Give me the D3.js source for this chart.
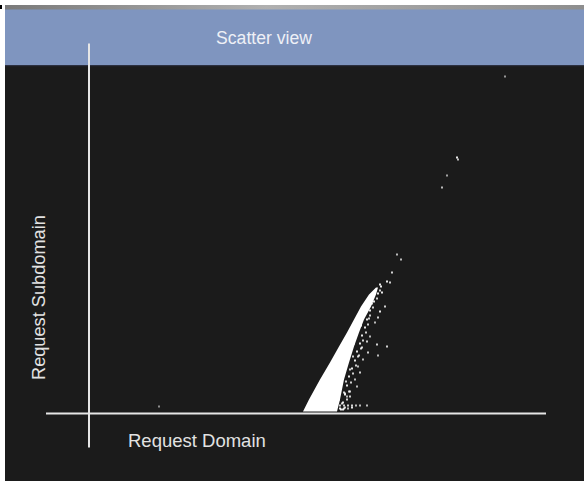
<!DOCTYPE html>
<html>
<head>
<meta charset="utf-8">
<script src="https://cdn.jsdelivr.net/npm/d3@7"></script>
<style>
  html, body { margin: 0; padding: 0; background: #ffffff; }
  svg { display: block; }
</style>
</head>
<body>
<div id="chart"></div>
<script>
// dense core of the cloud: for each subdomain level, domain extent (left, right)
var coreY     = [2, 14, 34, 51, 67, 81, 94, 107, 119, 126];
var coreLeft  = [214, 220, 231, 241, 250, 258, 265, 272, 280, 287];
var coreRight = [248, 251, 255, 260, 265, 270, 275, 282, 287, 289];

// scattered points (domain, subdomain)
var ptX = [416, 368, 369, 358, 353, 70,
  308, 312, 303, 291, 298, 301, 293, 296, 291, 289, 286, 281, 288, 298, 289, 278, 279, 274,
  269, 271, 266, 268, 261, 258, 271, 278, 263, 254, 261,
  263, 266, 261, 264, 258, 261, 254, 257, 252, 255, 250, 253, 248, 256,
  247, 251, 255, 259, 263, 267, 247, 251, 255, 259,
  276, 283, 272, 280, 268, 273, 265, 270,
  252, 256, 254, 258, 256, 260, 258, 262, 260, 264, 263, 267, 266, 269, 268, 272,
  271, 274, 273, 277, 276, 279, 278, 281, 281, 284, 285, 288, 289, 291, 292];
var ptY = [337, 256, 254, 238, 226, 7,
  159, 154, 141, 129, 132, 131, 121, 107, 102, 96, 91, 77, 69, 67, 58, 72, 61, 54,
  47, 41, 34, 27, 22, 17, 8, 8, 6, 4, 17,
  79, 74, 62, 57, 49, 44, 39, 32, 26, 21, 14, 10, 7, 20,
  8, 8, 8, 8, 8, 8, 5, 5, 5, 5,
  100, 110, 88, 95, 83, 66, 70, 58,
  4, 6, 11, 14, 19, 22, 28, 31, 37, 40, 45, 48, 53, 57, 62, 65,
  70, 73, 78, 81, 86, 89, 94, 98, 103, 106, 112, 115, 120, 123, 127];
var ptShade = [0.55, 0.9, 0.7, 0.6, 0.7, 0.5,
  0.7, 0.7, 0.8, 0.9, 0.9, 0.8, 0.9, 0.8, 0.9, 0.8, 0.7, 0.7, 0.8, 0.8, 0.7, 0.8, 0.8, 0.7,
  0.7, 0.8, 0.7, 0.7, 0.8, 0.7, 0.7, 0.7, 0.9, 0.9, 0.8,
  0.9, 0.8, 0.9, 0.8, 0.9, 0.8, 0.9, 0.8, 0.9, 0.8, 0.9, 0.8, 0.9, 0.8,
  0.8, 0.8, 0.8, 0.8, 0.8, 0.7, 0.9, 0.9, 0.8, 0.7,
  0.9, 0.8, 0.9, 0.8, 0.9, 0.8, 0.9, 0.8,
  0.9, 0.8, 0.9, 0.8, 0.9, 0.8, 0.9, 0.8, 0.9, 0.8, 0.9, 0.8, 0.9, 0.8, 0.9, 0.8,
  0.9, 0.8, 0.9, 0.8, 0.9, 0.8, 0.9, 0.8, 0.9, 0.8, 0.9, 0.8, 0.9, 0.8, 0.9];

var W = 584, H = 481;
var svg = d3.select("#chart").append("svg")
    .attr("width", W)
    .attr("height", H);

// panel background
svg.append("rect").attr("x", 5).attr("y", 5).attr("width", W - 5).attr("height", H - 5)
    .attr("fill", "#1b1b1b");

var grad = svg.append("defs").append("linearGradient").attr("id", "topstrip");
grad.append("stop").attr("offset", "0%").attr("stop-color", "#7a7a7a");
grad.append("stop").attr("offset", "45%").attr("stop-color", "#b0b0b0");
grad.append("stop").attr("offset", "100%").attr("stop-color", "#8e8e8e");
svg.append("rect").attr("x", 5).attr("y", 5).attr("width", W - 5).attr("height", 5)
    .attr("fill", "url(#topstrip)");
svg.append("rect").attr("x", 0).attr("y", 5).attr("width", 2).attr("height", 4).attr("fill", "#000");

// header
svg.append("rect").attr("x", 5).attr("y", 9.5).attr("width", W - 5).attr("height", 55.5)
    .attr("fill", "#7f95bf");
svg.append("rect").attr("x", 5).attr("y", 65).attr("width", W - 5).attr("height", 1.2)
    .attr("fill", "#2c3040");
svg.append("text")
    .attr("x", 264).attr("y", 43.5)
    .attr("text-anchor", "middle")
    .attr("font-family", "Liberation Sans, Arial, sans-serif")
    .attr("font-size", "17.6px")
    .attr("fill", "#eef0f6")
    .text("Scatter view");

var x = d3.scaleLinear().domain([0, 457]).range([89, 546]);
var y = d3.scaleLinear().domain([0, 370]).range([413.5, 43.5]);

// axes as plain crossing lines
svg.append("line")
    .attr("x1", x(0)).attr("x2", x(0))
    .attr("y1", y(-34)).attr("y2", y(370))
    .attr("stroke", "#e6e6e6").attr("stroke-width", 2);
svg.append("line")
    .attr("x1", x(-43)).attr("x2", x(457))
    .attr("y1", y(0)).attr("y2", y(0))
    .attr("stroke", "#e6e6e6").attr("stroke-width", 2);

// dense core
var core = coreY.map(function(v, i) { return [v, coreLeft[i], coreRight[i]]; });
svg.append("path")
    .datum(core)
    .attr("d", d3.area()
        .y(function(d) { return y(d[0]); })
        .x0(function(d) { return x(d[1]); })
        .x1(function(d) { return x(d[2]); }))
    .attr("fill", "#ffffff");

// scattered points
var pts = ptX.map(function(v, i) { return [v, ptY[i], ptShade[i]]; });
svg.selectAll("rect.pt")
    .data(pts)
    .enter()
    .append("rect")
    .attr("class", "pt")
    .attr("x", function(d) { return x(d[0]) - 1; })
    .attr("y", function(d) { return y(d[1]) - 1; })
    .attr("width", 2)
    .attr("height", 2)
    .attr("fill", "#ffffff")
    .attr("fill-opacity", function(d) { return d[2]; });

// axis labels
svg.append("text")
    .attr("x", 128).attr("y", 447)
    .attr("font-family", "Liberation Sans, Arial, sans-serif")
    .attr("font-size", "18.5px")
    .attr("fill", "#e2e2e2")
    .text("Request Domain");

svg.append("text")
    .attr("transform", "translate(45,380) rotate(-90)")
    .attr("font-family", "Liberation Sans, Arial, sans-serif")
    .attr("font-size", "18.2px")
    .attr("fill", "#e2e2e2")
    .text("Request Subdomain");
</script>
</body>
</html>
